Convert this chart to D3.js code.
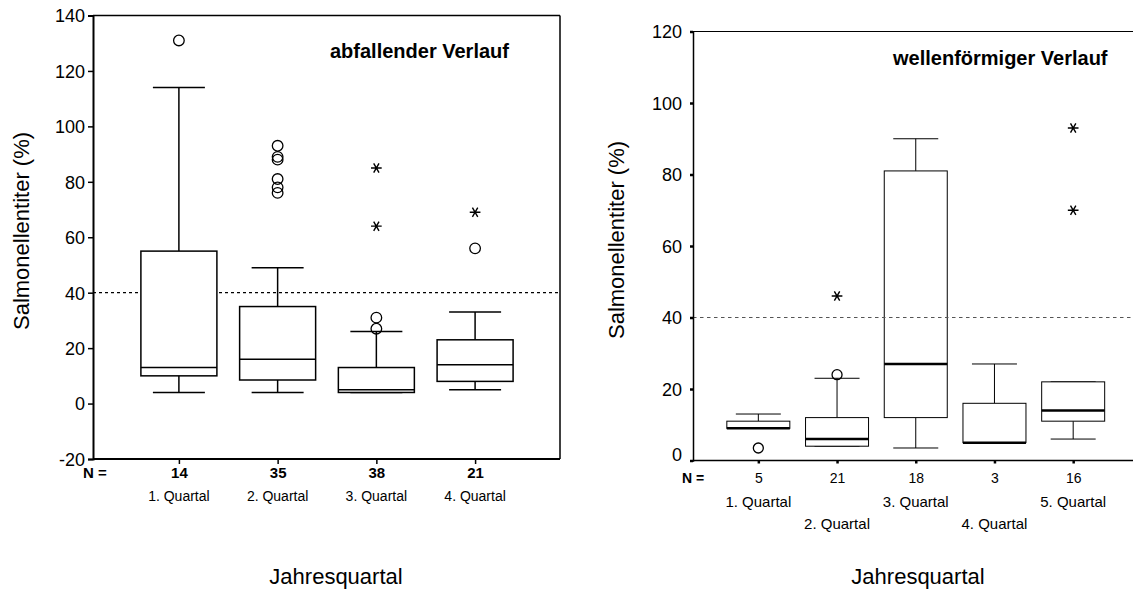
<!DOCTYPE html>
<html>
<head>
<meta charset="utf-8">
<script src="https://cdn.jsdelivr.net/npm/d3@7"></script>
<style>
  body { margin: 0; background: #fff; }
  text { font-family: "Liberation Sans", Arial, sans-serif; fill: #000; }
</style>
</head>
<body>
<svg id="chart" width="1133" height="591"></svg>
<script>
// ---- left panel: abfallender Verlauf
const leftCats = ["1. Quartal", "2. Quartal", "3. Quartal", "4. Quartal"];
const leftN = [14, 35, 38, 21];
const leftLow = [4, 4, 4, 5];
const leftQ1 = [10, 8.5, 4, 8];
const leftMed = [13, 16, 5, 14];
const leftQ3 = [55, 35, 13, 23];
const leftHigh = [114, 49, 26, 33];
const leftCircles = [[131], [93, 89, 88, 81, 78, 76], [31, 27], [56]];
const leftStars = [[], [], [85, 64], [69]];
const leftTicks = [-20, 0, 20, 40, 60, 80, 100, 120, 140];

// ---- right panel: wellenförmiger Verlauf
const rightCats = ["1. Quartal", "2. Quartal", "3. Quartal", "4. Quartal", "5. Quartal"];
const rightN = [5, 21, 18, 3, 16];
const rightLow = [9, 4, 3.5, 5, 6];
const rightQ1 = [9, 4, 12, 5, 11];
const rightMed = [9, 6, 27, 5, 14];
const rightQ3 = [11, 12, 81, 16, 22];
const rightHigh = [13, 23, 90, 27, 22];
const rightCircles = [[3.5], [24], [], [], []];
const rightStars = [[], [46], [], [], [93, 70]];
const rightTicks = [0, 20, 40, 60, 80, 100, 120];

const refLine = 40;

const svg = d3.select("#chart");
svg.append("rect").attr("width", 1133).attr("height", 591).attr("fill", "#fff");

function drawPanel(p) {
  const n = p.cats.length;
  const x = d3.scaleLinear().domain([1 - p.padL, n + p.padR]).range([p.x0, p.x1]);
  const y = d3.scaleLinear().domain(p.yDomain).range([p.y0, p.y1]);
  const g = svg.append("g");
  const idx = d3.range(n);

  const ref = () => g.append("line")
    .attr("x1", p.x0).attr("x2", p.x1)
    .attr("y1", y(refLine)).attr("y2", y(refLine))
    .attr("stroke", p.refColor).attr("stroke-width", 1.2)
    .attr("stroke-dasharray", p.dash);
  if (!p.refOnTop) ref();

  // whiskers
  idx.forEach(i => {
    const cx = x(i + 1);
    [[p.high[i], p.q3[i]], [p.low[i], p.q1[i]]].forEach(([a, b]) => {
      g.append("line").attr("x1", cx).attr("x2", cx).attr("y1", y(a)).attr("y2", y(b))
        .attr("stroke", "#000").attr("stroke-width", p.sw);
      g.append("line").attr("x1", cx - p.capW / 2).attr("x2", cx + p.capW / 2)
        .attr("y1", y(a)).attr("y2", y(a))
        .attr("stroke", "#000").attr("stroke-width", p.sw);
    });
  });

  // boxes
  g.selectAll(".box").data(idx).join("rect")
    .attr("x", i => x(i + 1) - p.boxW / 2)
    .attr("width", p.boxW)
    .attr("y", i => y(p.q3[i]))
    .attr("height", i => y(p.q1[i]) - y(p.q3[i]))
    .attr("fill", "#fff").attr("stroke", "#000").attr("stroke-width", p.sw);

  g.selectAll(".med").data(idx).join("line")
    .attr("x1", i => x(i + 1) - p.boxW / 2).attr("x2", i => x(i + 1) + p.boxW / 2)
    .attr("y1", i => y(p.med[i])).attr("y2", i => y(p.med[i]))
    .attr("stroke", "#000").attr("stroke-width", p.medW);

  if (p.refOnTop) ref();

  // outliers
  idx.forEach(i => {
    p.circles[i].forEach(v => {
      g.append("circle").attr("cx", x(i + 1)).attr("cy", y(v)).attr("r", p.r)
        .attr("fill", "none").attr("stroke", "#000").attr("stroke-width", 1.3);
    });
    p.stars[i].forEach(v => {
      g.append("path")
        .attr("d", d3.symbol(d3.symbolAsterisk, p.starSize)())
        .attr("transform", `translate(${x(i + 1)},${y(v)}) rotate(90)`)
        .attr("fill", "none").attr("stroke", "#000").attr("stroke-width", 1.4);
    });
  });

  // frame
  g.append("line").attr("x1", p.x0).attr("x2", p.x1).attr("y1", p.y1).attr("y2", p.y1)
    .attr("stroke", "#000").attr("stroke-width", p.topW);
  if (p.rightFrame) {
    g.append("line").attr("x1", p.x1).attr("x2", p.x1).attr("y1", p.y1).attr("y2", p.y0)
      .attr("stroke", "#000").attr("stroke-width", p.topW);
  }

  // y axis
  const ya = g.append("g").attr("transform", `translate(${p.x0},0)`)
    .call(d3.axisLeft(y).tickValues(p.ticks).tickFormat(d => String(d))
      .tickSize(p.tickLen).tickPadding(p.tickPad));
  ya.select(".domain").attr("stroke-width", p.axisW);
  ya.selectAll(".tick line").attr("stroke-width", p.tickW);
  ya.selectAll(".tick text").attr("font-size", 18).attr("font-family", null)
    .attr("dy", (d) => d === p.yDomain[0] && p.lift0 ? "0.0em" : "0.35em");

  // x axis with N
  const xa = g.append("g").attr("transform", `translate(0,${p.y0})`)
    .call(d3.axisBottom(x).tickValues(idx.map(i => i + 1))
      .tickFormat((d, i) => p.N[i]).tickSize(p.xTickLen).tickPadding(p.xTickPad));
  xa.select(".domain").remove();
  xa.selectAll(".tick line").attr("stroke-width", p.tickW);
  xa.selectAll(".tick text").attr("font-size", p.nSize).attr("font-family", null)
    .attr("font-weight", p.nBold ? "bold" : "normal");
  g.append("line").attr("x1", p.x0).attr("x2", p.x1).attr("y1", p.y0).attr("y2", p.y0)
    .attr("stroke", "#000").attr("stroke-width", p.axisW);

  g.append("text").attr("x", p.nLabelX).attr("y", p.nBase)
    .attr("font-size", p.nSize).attr("font-weight", "bold").text("N =");

  // category labels
  g.selectAll(".cat").data(idx).join("text")
    .attr("x", i => x(i + 1))
    .attr("y", i => p.catBase[i % p.catBase.length])
    .attr("text-anchor", "middle").attr("font-size", p.catSize)
    .text(i => p.cats[i]);

  // titles
  g.append("text").attr("x", p.titleX).attr("y", p.titleY)
    .attr("font-size", 20).attr("font-weight", "bold").text(p.title);
  g.append("text")
    .attr("transform", `translate(${p.yTitleX},${p.yTitleY}) rotate(-90)`)
    .attr("text-anchor", "middle").attr("font-size", 22).text("Salmonellentiter (%)");
  g.append("text").attr("x", p.xTitleX).attr("y", 584)
    .attr("text-anchor", "middle").attr("font-size", 22).text("Jahresquartal");
}

drawPanel({
  cats: leftCats, N: leftN, low: leftLow, q1: leftQ1, med: leftMed, q3: leftQ3, high: leftHigh,
  circles: leftCircles, stars: leftStars, ticks: leftTicks,
  x0: 93, x1: 560, padL: 0.87, padR: 0.86,
  yDomain: [-20, 140], y0: 459, y1: 15.5,
  boxW: 76, capW: 52, sw: 1.5, medW: 1.5, r: 5.3, starSize: 80,
  refColor: "#000", dash: "3,3", refOnTop: false,
  topW: 1.5, rightFrame: true, axisW: 2, tickW: 1.5,
  tickLen: 5, tickPad: 3, xTickLen: 5, xTickPad: 3, lift0: false,
  nSize: 15, nBold: true, nLabelX: 83, nBase: 478,
  catBase: [501], catSize: 14,
  title: "abfallender Verlauf", titleX: 330, titleY: 58,
  yTitleX: 29, yTitleY: 231, xTitleX: 336
});

drawPanel({
  cats: rightCats, N: rightN, low: rightLow, q1: rightQ1, med: rightMed, q3: rightQ3, high: rightHigh,
  circles: rightCircles, stars: rightStars, ticks: rightTicks,
  x0: 693, x1: 1133, padL: 0.83, padR: 0.76,
  yDomain: [0, 120], y0: 460.5, y1: 31.5,
  boxW: 63, capW: 45, sw: 1, medW: 2.5, r: 5, starSize: 80,
  refColor: "#555", dash: "3.5,3.5", refOnTop: true,
  topW: 1.2, rightFrame: false, axisW: 1.5, tickW: 2.5,
  tickLen: 3, tickPad: 8, xTickLen: 3, xTickPad: 9.6, lift0: true,
  nSize: 14, nBold: false, nLabelX: 682, nBase: 483,
  catBase: [507, 529], catSize: 15,
  title: "wellenförmiger Verlauf", titleX: 893, titleY: 65,
  yTitleX: 624, yTitleY: 240, xTitleX: 918
});
</script>
</body>
</html>
